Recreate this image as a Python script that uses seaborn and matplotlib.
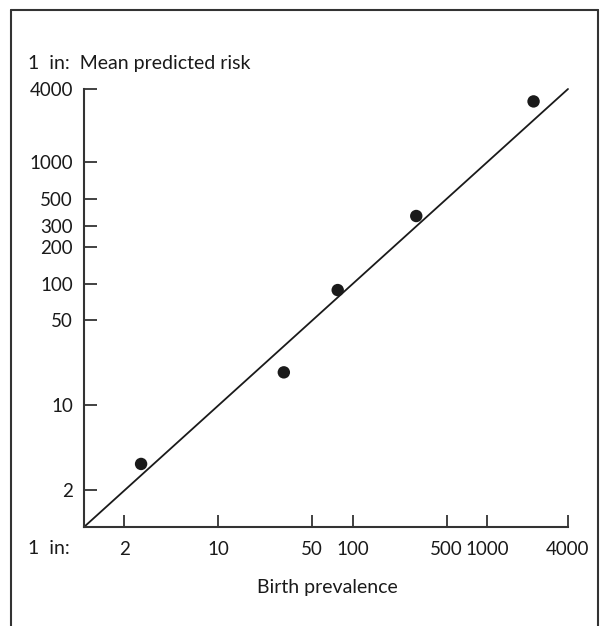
import matplotlib
matplotlib.use("Agg")
import matplotlib.pyplot as plt
from matplotlib.lines import Line2D
import seaborn as sns
import pandas as pd

# Data (1 in N)
birth_prevalence = [2.66, 30.7, 77.3, 297, 2217]
predicted_risk = [3.3, 18.7, 88.8, 361, 3162]
identity_line = [1, 4000]
x_ticks = [2, 10, 50, 100, 500, 1000, 4000]
y_ticks = [2, 10, 50, 100, 200, 300, 500, 1000, 4000]

sns.set_theme(style="white")
plt.rcParams['font.family'] = ['Lato', 'DejaVu Sans']

W, H = 611, 626
fig = plt.figure(figsize=(W / 100, H / 100), dpi=100)
ax = fig.add_axes([84 / W, 1 - 527 / H, (568 - 84) / W, (527 - 89) / H])

df = pd.DataFrame({"prev": birth_prevalence, "risk": predicted_risk})
line_df = pd.DataFrame({"x": identity_line, "y": identity_line})

sns.lineplot(data=line_df, x="x", y="y", ax=ax, color="#1a1a1a", lw=1.3,
             legend=False, clip_on=False)
sns.scatterplot(data=df, x="prev", y="risk", ax=ax, s=80, color="#1a1a1a",
                edgecolor="none", legend=False, clip_on=False, zorder=3)

ax.set_xscale("log")
ax.set_yscale("log")
ax.set_xlim(1, 4000)
ax.set_ylim(1, 4000)
ax.set_xticks(x_ticks)
ax.set_xticklabels([str(v) for v in x_ticks])
ax.set_yticks(y_ticks)
ax.set_yticklabels([str(v) for v in y_ticks])
ax.minorticks_off()

for s in ["top", "right"]:
    ax.spines[s].set_visible(False)
for s in ["left", "bottom"]:
    ax.spines[s].set_color("#333333")
    ax.spines[s].set_linewidth(1.5)

ax.tick_params(axis="both", which="major", direction="in", length=9, width=1.3,
               color="#333333", labelsize=13.5, labelcolor="#1a1a1a",
               bottom=True, left=True, top=False, right=False)
ax.tick_params(axis="x", pad=10)
ax.tick_params(axis="y", pad=8)
ax.set_xlabel("")
ax.set_ylabel("")

fig.text(28 / W, 1 - 549 / H, "1  in:", ha="left", va="center",
         fontsize=14, color="#1a1a1a")
fig.text(28 / W, 1 - 63 / H, "1  in:  Mean predicted risk", ha="left",
         va="center", fontsize=14, color="#1a1a1a")
fig.text(327 / W, 1 - 588 / H, "Birth prevalence", ha="center",
         va="center", fontsize=14, color="#1a1a1a")

# Outer frame
fc = "#333333"
fig.add_artist(Line2D([11 / W, 11 / W], [0, 1 - 10 / H], transform=fig.transFigure,
                      color=fc, lw=1.5))
fig.add_artist(Line2D([11 / W, 598 / W], [1 - 10 / H, 1 - 10 / H],
                      transform=fig.transFigure, color=fc, lw=1.5))
fig.add_artist(Line2D([598 / W, 598 / W], [0, 1 - 10 / H], transform=fig.transFigure,
                      color=fc, lw=1.5))

fig.savefig("out.png", dpi=100, facecolor="white")
